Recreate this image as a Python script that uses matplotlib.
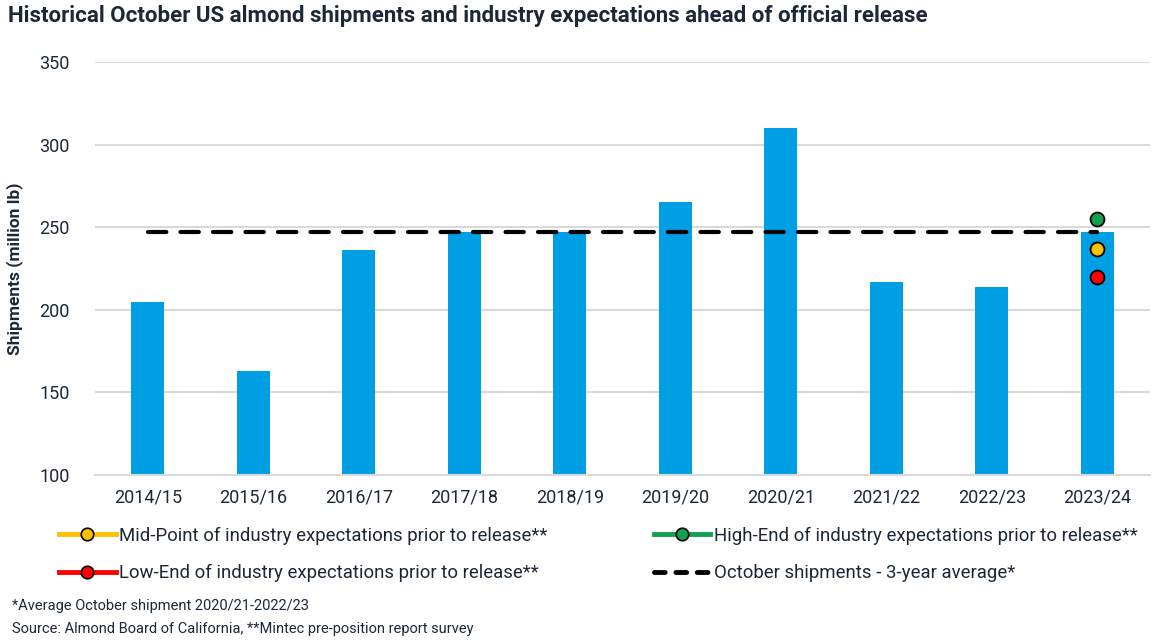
import matplotlib.pyplot as plt
from matplotlib.lines import Line2D

seasons = ["2014/15", "2015/16", "2016/17", "2017/18", "2018/19",
           "2019/20", "2020/21", "2021/22", "2022/23", "2023/24"]
shipments = [205, 163, 236, 247, 247, 265, 310, 217, 214, 247]
avg_3yr = 247
high_end = 255
mid_point = 237
low_end = 220

navy = "#1b2838"
blue = "#009fe3"
yellow = "#ffc000"
green = "#12a150"
red = "#ff0000"

plt.rcParams['font.family'] = ['Roboto', 'DejaVu Sans']

fig = plt.figure(figsize=(11.58, 6.43), dpi=100)
ax = fig.add_axes([95/1158, 1 - 475/643, 1055/1158, 413/643])

x = list(range(len(seasons)))
ax.bar(x, shipments, width=0.31, color=blue, zorder=2)
ax.plot([x[0], x[-1]], [avg_3yr, avg_3yr], color="black", lw=3,
        dashes=(4.4, 3.4), dash_capstyle="round", zorder=3)
last = x[-1]
ax.plot([last], [high_end], "o", ms=10, color=green, mec="black", mew=1.3, zorder=4)
ax.plot([last], [mid_point], "o", ms=10, color=yellow, mec="black", mew=1.3, zorder=4)
ax.plot([last], [low_end], "o", ms=10, color=red, mec="black", mew=1.3, zorder=4)

ax.set_xlim(-0.5, 9.5)
ax.set_ylim(100, 350)
ax.set_yticks([100, 150, 200, 250, 300, 350])
ax.set_xticks(x)
ax.set_xticklabels(seasons)
ax.grid(axis="y", color="#d9d9d9", lw=1.5, zorder=0)
for s in ["top", "right", "left"]:
    ax.spines[s].set_visible(False)
ax.spines["bottom"].set_color("#d9d9d9")
ax.spines["bottom"].set_linewidth(1.5)
ax.tick_params(length=0, labelsize=13, labelcolor=navy, pad=10)
ax.tick_params(axis="y", pad=18)
ax.set_ylabel("Shipments (million lb)", fontsize=12.5, fontweight="bold",
              color=navy, labelpad=12)

fig.text(8/1158, 1 - 16/643, "Historical October US almond shipments and industry expectations ahead of official release",
         fontsize=16, fontweight="bold", color=navy, va="center", ha="left")

handles = [
    Line2D([], [], color=yellow, lw=3.5, marker="o", ms=9, mfc=yellow, mec="black", mew=1.2),
    Line2D([], [], color=red, lw=3.5, marker="o", ms=9, mfc=red, mec="black", mew=1.2),
    Line2D([], [], color=green, lw=3.5, marker="o", ms=9, mfc=green, mec="black", mew=1.2),
    Line2D([], [], color="black", lw=3.5, dashes=(2.2, 2.2), dash_capstyle="round"),
]
labels = [
    "Mid-Point of industry expectations prior to release**",
    "Low-End of industry expectations prior to release**",
    "High-End of industry expectations prior to release**",
    "October shipments - 3-year average*",
]
leg = fig.legend(handles, labels, ncol=2, loc="upper left",
                 bbox_to_anchor=(42/1158, 1 - 510/643), frameon=False,
                 fontsize=13.4, handlelength=3.05, handletextpad=0.2,
                 columnspacing=5.7, labelspacing=1.05)
for t in leg.get_texts():
    t.set_color(navy)

fig.text(12/1158, 1 - 606/643, "*Average October shipment 2020/21-2022/23",
         fontsize=10.5, color=navy, va="center")
fig.text(12/1158, 1 - 629/643, "Source: Almond Board of California, **Mintec pre-position report survey",
         fontsize=10.5, color=navy, va="center")

fig.savefig("out.png", dpi=100)
